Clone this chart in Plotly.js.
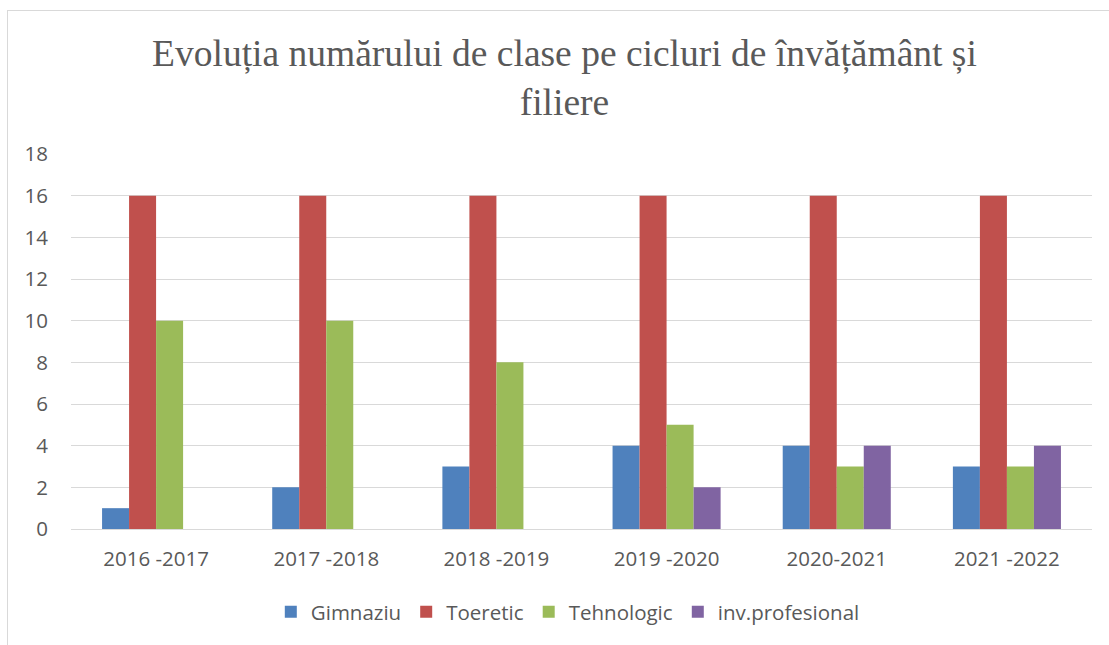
<!DOCTYPE html>
<html>
<head>
<meta charset="utf-8">
<script src="https://cdn.plot.ly/plotly-3.0.1.min.js"></script>
<style>
html,body{margin:0;padding:0;background:#fff;overflow:hidden;}
#frame{position:absolute;left:7px;top:10px;width:1200px;height:700px;border:1px solid #d9d9d9;box-sizing:border-box;}
#chart{position:absolute;left:0;top:0;width:1109px;height:645px;}
</style>
</head>
<body>
<div id="frame"></div>
<div id="chart"></div>
<script>
var categories = ["2016 -2017", "2017 -2018", "2018 -2019", "2019 -2020", "2020-2021", "2021 -2022"];
var seriesNames = ["Gimnaziu", "Toeretic", "Tehnologic", "inv.profesional"];
var gimnaziu = [1, 2, 3, 4, 4, 3];
var toeretic = [16, 16, 16, 16, 16, 16];
var tehnologic = [10, 10, 8, 5, 3, 3];
var invProfesional = [0, 0, 0, 2, 4, 4];
var colors = ["#4F81BD", "#C0504D", "#9BBB59", "#8064A2"];
var values = [gimnaziu, toeretic, tehnologic, invProfesional];

var traces = values.map(function (v, i) {
  return {
    type: "bar",
    name: seriesNames[i],
    x: categories,
    y: v,
    marker: { color: colors[i], line: { width: 0 } },
    hoverinfo: "x+y+name"
  };
});

var layout = {
  width: 1109,
  height: 645,
  paper_bgcolor: "rgba(0,0,0,0)",
  plot_bgcolor: "rgba(0,0,0,0)",
  margin: { l: 71, r: 17, t: 154, b: 116 },
  barmode: "group",
  bargap: 0.365,
  bargroupgap: 0,
  title: {
    text: "Evoluția numărului de clase pe cicluri de învățământ și<br>filiere",
    font: { family: "Liberation Serif, serif", size: 37.5, color: "#595959" },
    x: 0.509, xanchor: "center", xref: "container",
    y: 0.897, yanchor: "top", yref: "container"
  },
  font: { family: "Open Sans, sans-serif", color: "#595959" },
  xaxis: {
    type: "category",
    showgrid: false,
    showline: false,
    zeroline: false,
    ticks: "",
    tickfont: { size: 20.5, color: "#595959" },
    ticklabelstandoff: 15
  },
  yaxis: {
    range: [0, 18],
    dtick: 2,
    showgrid: true,
    gridcolor: "#d9d9d9",
    gridwidth: 1,
    zeroline: true,
    zerolinecolor: "#d9d9d9",
    zerolinewidth: 1,
    showline: false,
    ticks: "",
    tickfont: { size: 20.5, color: "#595959" },
    ticklabelstandoff: 22
  },
  legend: {
    orientation: "h",
    x: 0.512, xanchor: "center", xref: "container",
    y: 1 - 612 / 645, yanchor: "middle", yref: "container",
    font: { size: 20.5, color: "#595959" },
    itemwidth: 30,
    traceorder: "normal"
  },
  showlegend: true
};

Plotly.newPlot("chart", traces, layout, { displayModeBar: false, staticPlot: false });
</script>
</body>
</html>
